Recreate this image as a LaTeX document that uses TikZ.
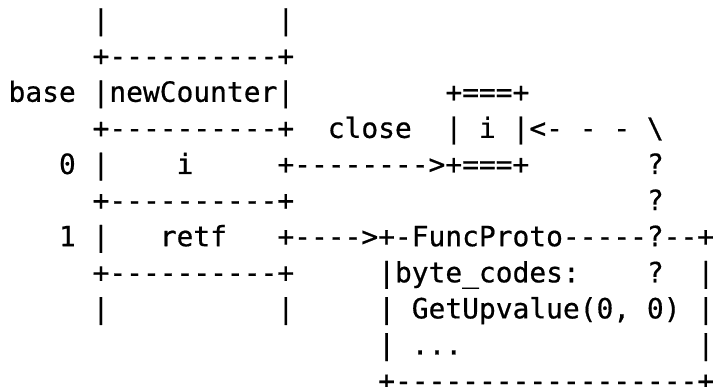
\documentclass[tikz,border=0pt]{standalone}
\usepackage{fontspec}
\setmonofont{DejaVu Sans Mono}[FakeBold=0.6]
% character grid: column width and line pitch in pt
\newcommand\colw{16.8}
\newcommand\rowh{36.1}
% place a text run at a grid cell (column, row)
\newcommand\seg[4]{\node[code] (#1) at ({8.6+#2*\colw},{174+(#3-5)*\rowh}) {#4};}
\begin{document}
\begin{tikzpicture}[x=1pt,y=-1pt,
  code/.style={anchor=base west,inner sep=0pt,outer sep=0pt,text=black,
    font=\ttfamily\fontsize{27.9}{34}\selectfont\frenchspacing}]
\useasboundingbox (0,0) rectangle (713,387);
% stack frame
\seg{topl}{5}{1}{|}
\seg{topr}{16}{1}{|}
\seg{sep0}{5}{2}{+----------+}
\seg{baselbl}{0}{3}{base}
\seg{fn}{5}{3}{|newCounter|}
\seg{sep1}{5}{4}{+----------+}
\seg{idx0}{3}{5}{0}
\seg{slot0l}{5}{5}{|}
\seg{slot0}{10}{5}{i}
\seg{sep2}{5}{6}{+----------+}
\seg{idx1}{3}{7}{1}
\seg{slot1l}{5}{7}{|}
\seg{slot1}{9}{7}{retf}
\seg{sep3}{5}{8}{+----------+}
\seg{botl}{5}{9}{|}
\seg{botr}{16}{9}{|}
% upvalue box
\seg{uvtop}{26}{3}{+===+}
\seg{closelbl}{19}{4}{close}
\seg{uv}{26}{4}{|~i~|<-~-~-~\textbackslash}
\seg{closearrow}{16}{5}{+-------->+===+}
\seg{q1}{38}{5}{?}
\seg{q2}{38}{6}{?}
% function prototype
\seg{protoarrow}{16}{7}{+---->+-FuncProto-----?--+}
\seg{bcl}{22}{8}{|byte\_codes:}
\seg{q3}{38}{8}{?}
\seg{bcr}{41}{8}{|}
\seg{op1l}{22}{9}{|}
\seg{op1}{24}{9}{GetUpvalue(0,~0)}
\seg{op1r}{41}{9}{|}
\seg{op2l}{22}{10}{|}
\seg{op2}{24}{10}{...}
\seg{op2r}{41}{10}{|}
\seg{protobot}{22}{11}{+------------------+}
\end{tikzpicture}
\end{document}
